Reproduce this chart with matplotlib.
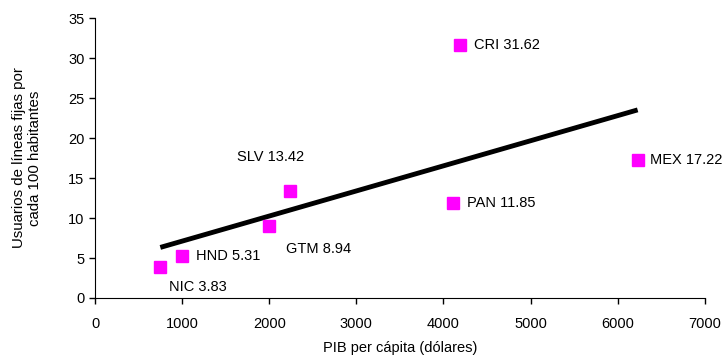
import numpy as np
import matplotlib
matplotlib.use("Agg")
import matplotlib.pyplot as plt

plt.rcParams['font.family'] = ['Liberation Sans', 'DejaVu Sans']

countries = ["NIC", "HND", "GTM", "SLV", "PAN", "CRI", "MEX"]
gdp_per_capita = [750, 1000, 2000, 2240, 4110, 4190, 6230]
lines_per_100 = [3.83, 5.31, 8.94, 13.42, 11.85, 31.62, 17.22]

# label offsets in points (dx, dy) and alignment
label_offsets = {
    "NIC": (6, -14, "left"),
    "HND": (10, 0, "left"),
    "GTM": (12, -16, "left"),
    "SLV": (-38, 24, "left"),
    "PAN": (10, 0, "left"),
    "CRI": (10, 0, "left"),
    "MEX": (9, 0, "left"),
}

fig = plt.figure(figsize=(7.28, 3.55), dpi=100)
ax = fig.add_axes([0.1305, 0.1606, 0.8375, 0.7884])

x = np.array(gdp_per_capita)
y = np.array(lines_per_100)
slope, intercept = np.polyfit(x, y, 1)
xs = np.array([x.min(), x.max()])
ax.plot(xs, slope * xs + intercept, color="black", lw=3.5, solid_capstyle="butt", zorder=2)

ax.plot(x, y, linestyle="none", marker="s", ms=9, color="#ff00ff", mec="#ff00ff", zorder=3)

for c, xv, yv in zip(countries, x, y):
    dx, dy, ha = label_offsets[c]
    ax.annotate(f"{c} {yv:.2f}", (xv, yv), xytext=(dx, dy), textcoords="offset points",
                ha=ha, va="center", fontsize=10.5)

ax.set_xlim(0, 7000)
ax.set_ylim(0, 35)
ax.set_xticks(np.arange(0, 7001, 1000))
ax.set_yticks(np.arange(0, 36, 5))
ax.tick_params(direction="out", length=4, width=1, labelsize=10.5)
ax.tick_params(axis="x", pad=10)
for s in ("top", "right"):
    ax.spines[s].set_visible(False)
ax.set_xlabel("PIB per cápita (dólares)", fontsize=10.5, labelpad=7)
ax.set_ylabel("Usuarios de líneas fijas por\ncada 100 habitantes", fontsize=10.8, labelpad=19)

fig.savefig("out.png", dpi=100)
